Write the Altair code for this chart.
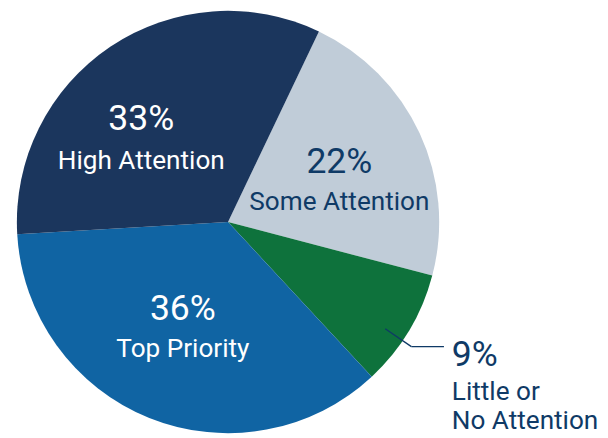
import math
import altair as alt
import pandas as pd

# ---- data ----
categories = ["Some Attention", "Little or No Attention", "Top Priority", "High Attention"]
values = [22, 9, 36, 33]
pct_labels = [f"{v}%" for v in values]
name_labels = ["Some Attention", "Little or\nNo Attention", "Top Priority", "High Attention"]
colors = ["#c0ccd8", "#0e723c", "#1064a3", "#1b365d"]

DARK_TEXT = "#0f3a66"
FONT = "Roboto"
PCT_SIZE = 36
NAME_SIZE = 26.5

df = pd.DataFrame({
    "category": categories,
    "value": values,
    "idx": list(range(len(categories))),
    "pct": pct_labels,
    "name": name_labels,
})

# ---- layout ----
W, H = 446, 428
R = 214
START = math.radians(25.5)
theta_scale = alt.Scale(domain=[0, sum(values)], range=[START, START + 2 * math.pi])

base = alt.Chart(df)

arcs = base.mark_arc(radius=R).encode(
    theta=alt.Theta("value:Q", stack=True, scale=theta_scale),
    color=alt.Color("category:N", scale=alt.Scale(domain=categories, range=colors), legend=None),
    order=alt.Order("idx:Q"),
)

lab = base.transform_window(
    cum="sum(value)", sort=[alt.SortField("idx")], frame=[None, 0]
).transform_calculate(mid="datum.cum - datum.value / 2")

# inside labels: radius, dx, dy(percent baseline), dy(name baseline), color
inside = {
    "Some Attention": dict(r=120, dx=4, dyp=0.5, dyn=38.5, color=DARK_TEXT),
    "Top Priority": dict(r=120, dx=-1, dyp=-12, dyn=25, color="#ffffff"),
    "High Attention": dict(r=120, dx=-21, dyp=6.6, dyn=45.6, color="#ffffff"),
}

layers = [arcs]
for cat, L in inside.items():
    sub = lab.transform_filter(alt.datum.category == cat)
    layers.append(
        sub.mark_text(radius=L["r"], dx=L["dx"], dy=L["dyp"], fontSize=PCT_SIZE, font=FONT,
                      align="center", baseline="alphabetic", color=L["color"]).encode(
            theta=alt.Theta("mid:Q", stack=None, scale=theta_scale), text="pct:N")
    )
    layers.append(
        sub.mark_text(radius=L["r"], dx=L["dx"], dy=L["dyn"], fontSize=NAME_SIZE, font=FONT,
                      align="center", baseline="alphabetic", color=L["color"]).encode(
            theta=alt.Theta("mid:Q", stack=None, scale=theta_scale), text="name:N")
    )

# outside label with leader line for the small slice
i = categories.index("Little or No Attention")
mid_val = sum(values[:i]) + values[i] / 2
ang = START + mid_val / sum(values) * 2 * math.pi + math.radians(3.3)
cx, cy = W / 2, H / 2
p0 = (cx + 0.9 * R * math.sin(ang), cy - 0.9 * R * math.cos(ang))
p1 = (cx + 1.05 * R * math.sin(ang), cy - 1.05 * R * math.cos(ang))
p2 = (p1[0] + 33, p1[1])

leader_df = pd.DataFrame({
    "x": [p0[0], p1[0]], "y": [p0[1], p1[1]],
    "x2": [p1[0], p2[0]], "y2": [p1[1], p2[1]],
})
leader = alt.Chart(leader_df).mark_rule(color=DARK_TEXT, strokeWidth=1.3).encode(
    x=alt.X("x:Q", scale=None), y=alt.Y("y:Q", scale=None),
    x2="x2:Q", y2="y2:Q",
)
layers.append(leader)

out_lines = [pct_labels[i]] + name_labels[i].split("\n")
out_df = pd.DataFrame({
    "text": out_lines,
    "x": [p1[0] + 41] * 3,
    "y": [p1[1] + 20, p1[1] + 54, p1[1] + 83],
    "big": [True, False, False],
})
out_big = alt.Chart(out_df).transform_filter("datum.big").mark_text(
    fontSize=PCT_SIZE, font=FONT, align="left", baseline="alphabetic", color=DARK_TEXT
).encode(x=alt.X("x:Q", scale=None), y=alt.Y("y:Q", scale=None), text="text:N")
out_small = alt.Chart(out_df).transform_filter("!datum.big").mark_text(
    fontSize=NAME_SIZE, font=FONT, align="left", baseline="alphabetic", color=DARK_TEXT
).encode(x=alt.X("x:Q", scale=None), y=alt.Y("y:Q", scale=None), text="text:N")
layers += [out_big, out_small]

chart = alt.layer(*layers).properties(
    width=W, height=H, autosize="none",
    padding={"left": 0, "top": 0, "right": 154, "bottom": 2},
    background="#ffffff",
).configure_view(strokeWidth=0)

chart.save("out.html", embed_options={"renderer": "svg", "actions": False})
